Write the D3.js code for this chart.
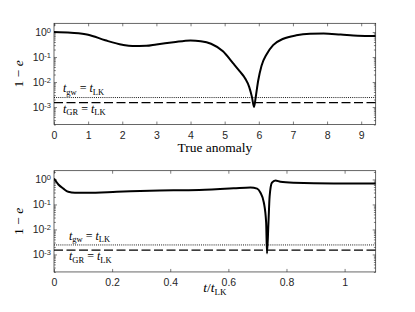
<!DOCTYPE html>
<html>
<head>
<meta charset="utf-8">
<script src="https://cdn.jsdelivr.net/npm/d3@7/dist/d3.min.js"></script>
<style>
body { margin: 0; background: #fff; }
.tick text { font-family: "Liberation Sans", Arial, sans-serif; font-size: 10.5px; fill: #262626; }
.label { font-family: "Liberation Serif", "DejaVu Serif", serif; font-size: 13.5px; fill: #000; }
.note { font-family: "Liberation Serif", "DejaVu Serif", serif; font-size: 12px; fill: #000; }
</style>
</head>
<body>
<script>
// top panel: 1 - e against true anomaly
var anomaly  = [0, 0.5, 1.0, 1.5, 2.0, 2.3, 2.7, 3.0, 3.5, 4.0, 4.3, 4.6, 4.95, 5.25, 5.45, 5.6, 5.72, 5.8, 5.86, 5.91, 5.98, 6.08, 6.23, 6.42, 6.72, 7.1, 7.5, 7.9, 8.4, 8.9, 9.42];
var anomalyE = [1.0, 0.93, 0.78, 0.47, 0.31, 0.275, 0.28, 0.32, 0.39, 0.46, 0.43, 0.34, 0.17, 0.056, 0.026, 0.014, 0.0063, 0.0025, 0.001, 0.0025, 0.011, 0.045, 0.13, 0.30, 0.54, 0.74, 0.85, 0.87, 0.79, 0.71, 0.69];

// bottom panel: 1 - e against t / t_LK
var timeLK = [0, 0.015, 0.032, 0.049, 0.072, 0.113, 0.216, 0.33, 0.5, 0.618, 0.676, 0.699, 0.71, 0.722, 0.73, 0.733, 0.738, 0.742, 0.75, 0.762, 0.779, 0.825, 0.963, 1.107];
var timeE  = [1.08, 0.63, 0.43, 0.32, 0.295, 0.295, 0.32, 0.355, 0.38, 0.44, 0.48, 0.43, 0.30, 0.12, 0.019, 0.0011, 0.019, 0.21, 0.74, 0.91, 0.81, 0.74, 0.69, 0.69];

// tick values
var anomalyTicks = [0, 1, 2, 3, 4, 5, 6, 7, 8, 9];
var timeTicks = [0, 0.2, 0.4, 0.6, 0.8, 1];
var decadeTicks = [1e-3, 1e-2, 1e-1, 1];

// reference timescale levels
var gwLevel = 2.4e-3;
var grLevel = 1.5e-3;

var svg = d3.select("body").append("svg")
    .attr("width", 415)
    .attr("height", 312);

var left = 54, plotw = 321.7, ploth = 101.25;

// minor ticks for log axis
var minorTicks = [];
[-4, -3, -2, -1, 0].forEach(function(p) {
    for (var k = 2; k <= 9; k++) minorTicks.push(k * Math.pow(10, p));
});

var panels = [
    { top: 23.3, xs: anomaly, ys: anomalyE, xmax: 3 * Math.PI, ticks: anomalyTicks, xlabel: "anomaly", noteDx: 9 },
    { top: 170.7, xs: timeLK, ys: timeE, xmax: 1.107, ticks: timeTicks, xlabel: "time", noteDx: 15 }
];

panels.forEach(function(p, i) {
    var g = svg.append("g").attr("transform", "translate(" + left + "," + p.top + ")");

    var x = d3.scaleLinear().domain([0, p.xmax]).range([0, plotw]);
    var y = d3.scaleLog().domain([Math.pow(10, -3.7), Math.pow(10, 0.35)]).range([ploth, 0]);
    var minors = minorTicks.filter(function(v) { return v > y.domain()[0] && v < y.domain()[1]; });

    g.append("clipPath").attr("id", "clip" + i)
        .append("rect").attr("width", plotw).attr("height", ploth);

    // axes, ticks pointing inward
    g.append("g").attr("transform", "translate(0," + ploth + ")")
        .call(d3.axisBottom(x).tickValues(p.ticks).tickSize(-3).tickPadding(6.5).tickFormat(function(d) { return String(d); }));
    g.append("g").call(d3.axisTop(x).tickValues(p.ticks).tickSize(-3).tickFormat(""));

    var yl = g.append("g").call(d3.axisLeft(y).tickValues(decadeTicks).tickSize(-3).tickPadding(3));
    g.append("g").call(d3.axisLeft(y).tickValues(minors).tickSize(-1.8).tickFormat(""));
    g.append("g").attr("transform", "translate(" + plotw + ",0)")
        .call(d3.axisRight(y).tickValues(decadeTicks).tickSize(-3).tickFormat(""));
    g.append("g").attr("transform", "translate(" + plotw + ",0)")
        .call(d3.axisRight(y).tickValues(minors).tickSize(-1.8).tickFormat(""));

    g.selectAll(".domain").remove();
    g.selectAll(".tick line").attr("stroke", "#262626").attr("stroke-width", 0.6);

    // 10^n labels
    yl.selectAll(".tick text").each(function(d) {
        var t = d3.select(this).text("10");
        t.append("tspan").attr("dy", "-0.45em").style("font-size", "7.5px").text(Math.round(Math.log10(d)));
    });

    // frame
    g.append("rect").attr("width", plotw).attr("height", ploth)
        .attr("fill", "none").attr("stroke", "#262626").attr("stroke-width", 0.7);

    // reference levels
    g.append("line").attr("x1", 0).attr("x2", plotw).attr("y1", y(gwLevel)).attr("y2", y(gwLevel))
        .attr("stroke", "#000").attr("stroke-width", 0.9).attr("stroke-dasharray", "1,1.1");
    g.append("line").attr("x1", 0).attr("x2", plotw).attr("y1", y(grLevel)).attr("y2", y(grLevel))
        .attr("stroke", "#000").attr("stroke-width", 1.2).attr("stroke-dasharray", "9,3.5");

    // curve
    var line = d3.line()
        .x(function(d) { return x(d[0]); })
        .y(function(d) { return y(d[1]); })
        .curve(d3.curveMonotoneX);
    g.append("path").datum(d3.zip(p.xs, p.ys))
        .attr("clip-path", "url(#clip" + i + ")")
        .attr("d", line)
        .attr("fill", "none").attr("stroke", "#000").attr("stroke-width", 2);

    // notes t_gw = t_LK and t_GR = t_LK
    function note(ty, sub) {
        var t = g.append("text").attr("class", "note").attr("x", p.noteDx).attr("y", ty);
        t.append("tspan").style("font-style", "italic").text("t");
        t.append("tspan").attr("dy", 2.5).style("font-size", "8.5px").text(sub);
        t.append("tspan").attr("dy", -2.5).text(" = ");
        t.append("tspan").style("font-style", "italic").text("t");
        t.append("tspan").attr("dy", 2.5).style("font-size", "8.5px").text("LK");
    }
    note(y(gwLevel) - 5.3, "gw");
    note(y(grLevel) + 10.3, "GR");

    // y label
    var yt = g.append("text").attr("class", "label")
        .attr("transform", "translate(" + (22.5 - left) + "," + (ploth / 2) + ") rotate(-90)")
        .attr("text-anchor", "middle");
    yt.append("tspan").text("1 \u2212 ");
    yt.append("tspan").style("font-style", "italic").text("e");

    // x label
    var xt = g.append("text").attr("class", "label")
        .attr("x", plotw / 2).attr("text-anchor", "middle");
    if (p.xlabel == "anomaly") {
        xt.attr("y", ploth + 27).text("True anomaly");
    } else {
        xt.attr("y", ploth + 20.5);
        xt.append("tspan").style("font-style", "italic").text("t");
        xt.append("tspan").text("/");
        xt.append("tspan").style("font-style", "italic").text("t");
        xt.append("tspan").attr("dy", 2.5).style("font-size", "9px").text("LK");
    }
});
</script>
</body>
</html>
